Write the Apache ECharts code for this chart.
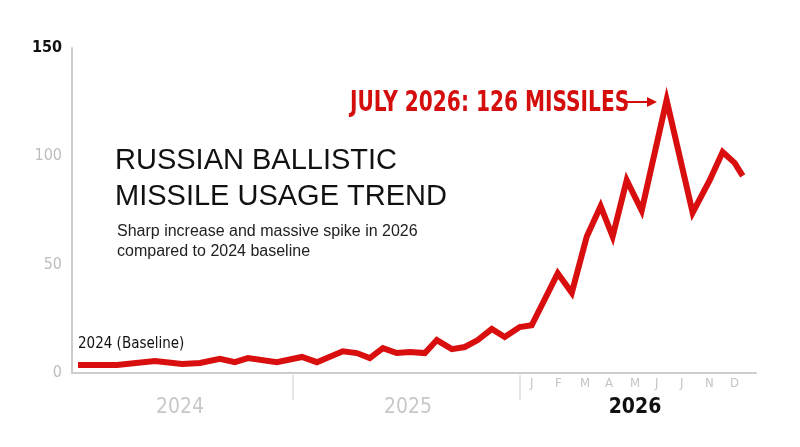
<!DOCTYPE html><html><head><meta charset="utf-8"><script src="https://cdn.jsdelivr.net/npm/echarts@6/dist/echarts.min.js"></script>
<style>body{margin:0}#c{width:800px;height:447px}</style></head><body><div id="c"></div><script>
const months=[0.32,2.4,4.43,5.87,6.83,7.89,8.69,9.39,10.93,12.27,13.07,14.45,15.2,15.89,16.59,17.33,18.03,18.83,19.47,20.27,20.96,21.65,22.4,23.09,23.89,24.53,25.92,26.67,27.47,28.21,28.85,29.6,30.4,31.73,33.12,34.03,34.72,35.36,35.79];
const missiles=[3.7,3.7,5.5,4.2,4.6,6.5,5,6.9,5,7.4,5,10,9.2,6.9,11.5,9.2,9.7,9.2,15.2,11,12,15.2,20.3,16.6,21.2,22,46,37,63,77,63,89,75,126,74,89,102,97,91];
const yTicks=[0,50,100,150];
const years=['2024','2025','2026'];
const monthLabels=['J','F','M','A','M','J','J','N','D'];
const chart=echarts.init(document.getElementById('c'));
const g=[];
monthLabels.forEach((t,i)=>g.push({type:'text',left:530+i*25,top:377,style:{text:t,fill:'#c4c4c4',font:'13px "DejaVu Sans Condensed"'}}));
[[180,years[0],'#c8c8c8','normal'],[408,years[1],'#c8c8c8','normal'],[635,years[2],'#111','bold']].forEach(a=>g.push({type:'text',x:a[0],y:408,style:{text:a[1],fill:a[2],font:a[3]+' 21px "DejaVu Sans Condensed"',align:'center',verticalAlign:'middle'}}));
[293,520].forEach(x=>g.push({type:'line',shape:{x1:x,y1:375,x2:x,y2:400},style:{stroke:'#ccc',lineWidth:1}}));
g.push({type:'text',left:115,top:143,style:{text:'RUSSIAN BALLISTIC\nMISSILE USAGE TREND',fill:'#111',font:'29px "Liberation Sans"',lineHeight:36}});
g.push({type:'text',left:117,top:222,style:{text:'Sharp increase and massive spike in 2026\ncompared to 2024 baseline',fill:'#222',font:'16px "Liberation Sans"',lineHeight:20}});
g.push({type:'text',left:78,top:337,style:{text:'2024 (Baseline)',fill:'#111',font:'15px "DejaVu Sans Condensed"'}});
g.push({type:'text',x:350,y:104,scaleX:0.8,style:{text:'JULY 2026: 126 MISSILES',fill:'#d40d0d',font:'bold 28px "DejaVu Sans Condensed"',verticalAlign:'middle'}});
g.push({type:'line',shape:{x1:627,y1:102,x2:652,y2:102},style:{stroke:'#d40d0d',lineWidth:2}});
g.push({type:'polygon',shape:{points:[[657,102],[647,97],[647,107]]},style:{fill:'#d40d0d'}});
chart.setOption({animation:false,
grid:{left:72,right:44,top:48,bottom:74},
xAxis:{type:'value',min:0,max:36.5,axisLine:{show:true,lineStyle:{color:'#ccc',width:2}},axisTick:{show:false},axisLabel:{show:false},splitLine:{show:false}},
yAxis:{type:'value',min:0,max:150,interval:50,axisLine:{show:true,lineStyle:{color:'#ccc',width:2}},axisTick:{show:false},splitLine:{show:false},
axisLabel:{margin:10,fontFamily:'DejaVu Sans Condensed',fontSize:16,formatter:v=>v===150?'{b|150}':String(v),color:'#bdbdbd',rich:{b:{fontWeight:'bold',color:'#111',fontSize:16,fontFamily:'DejaVu Sans Condensed'}}}},
series:[{type:'line',data:months.map((m,i)=>[m,missiles[i]]),symbol:'none',lineStyle:{color:'#d90f0f',width:6,join:'miter'}}],
graphic:g});
</script></body></html>
